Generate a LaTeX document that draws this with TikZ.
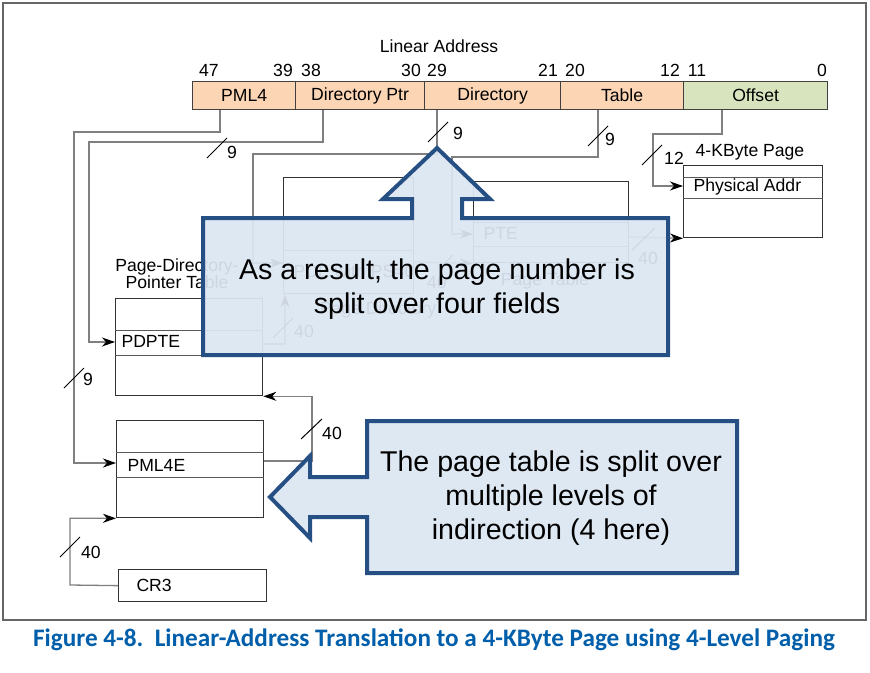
\documentclass[tikz,border=0pt]{standalone}
\usepackage{fontspec}
\setmainfont{Liberation Sans}
\newfontfamily\capfont{Carlito}
\usetikzlibrary{arrows.meta}
\definecolor{addrorange}{RGB}{252,213,180}
\definecolor{addrgreen}{RGB}{215,228,189}
\definecolor{calloutfill}{RGB}{220,230,242}
\definecolor{calloutline}{RGB}{38,80,132}
\definecolor{capblue}{RGB}{0,94,170}
\begin{document}
\begin{tikzpicture}[
    x=1pt, y=-1pt,
    font=\fontsize{17.6}{19}\selectfont,
    field/.style = {draw=black!75, line width=1.2pt, fill=addrorange, anchor=north west, minimum height=28, inner sep=0},
    tbl/.style = {draw=black!80, line width=1.3pt, anchor=north west, inner sep=0},
    row/.style = {draw=black!65, line width=1pt},
    wire/.style = {draw=black!50, line width=1.3pt},
    arr/.style = {wire, -{Stealth[length=13pt,width=9pt,inset=4pt,black]}},
    tick/.style = {draw=black, line width=1pt},
    callout/.style = {draw=calloutline, line width=4pt, fill=calloutfill, fill opacity=0.93, line join=miter},
    bignote/.style = {font=\fontsize{28.6}{34}\selectfont, align=center}
    ]
    \useasboundingbox (0,0) rectangle (870,672);
    \draw[black!60, line width=2pt] (3,3) rectangle (866,620);

    % linear address
    \node (title) at (439,46) {Linear Address};
    \foreach \n/\x in {47/209, 39/283, 38/311, 30/411, 29/437, 21/548, 20/575, 12/670, 11/697, 0/822}
        \node (bit\n) at (\x,70) {\n};
    \node[field, minimum width=103] (fpml) at (192,81) {PML4};
    \node[field, minimum width=129] (fptr) at (295,81) {Directory Ptr};
    \node[field, minimum width=136] (fdir) at (424,81) {Directory};
    \node[field, minimum width=123] (ftab) at (560,81) {Table};
    \node[field, minimum width=144, fill=addrgreen] (foff) at (683,81) {Offset};

    % tables
    \node[tbl, minimum width=139, minimum height=72] (page) at (683,165) {};
    \node[tbl, minimum width=155, minimum height=81] (ptab) at (473,181) {};
    \node[tbl, minimum width=130, minimum height=116] (pdir) at (283,177) {};
    \node[tbl, minimum width=147, minimum height=97] (pdpt) at (115,298) {};
    \node[tbl, minimum width=147, minimum height=97] (pml) at (116,420) {};
    \node[tbl, minimum width=148, minimum height=32] (cr3) at (118,569) {};

    \foreach \b/\y in {page/177, page/198, ptab/222, ptab/246, pdir/250, pdpt/330, pdpt/355, pml/452, pml/477}
        \draw[row] (\b.west |- 0,\y) -- (\b.east |- 0,\y);

    \node[anchor=west] (tphys) at (690,187) {Physical Addr};
    \node[anchor=west] (tpte) at (480,233) {PTE};
    \node[anchor=west] (tpde) at (290,271) {PDE with PS=0};
    \node[anchor=west] (tpdpte) at (118,341) {PDPTE};
    \node[anchor=west] (tpml4e) at (124,465) {PML4E};
    \node[anchor=west] (tcr3) at (133,585) {CR3};

    \node (lpage) at (750,152) {4-KByte Page};
    \node (lptab) at (545,281) {Page Table};
    \node (lpdir) at (378,310) {Page Directory};
    \node[align=center, font=\fontsize{17.6}{16}\selectfont] (lpdpt) at (177,274) {Page-Directory-\\Pointer Table};

    % address fields to tables
    \draw[arr] (fpml.south -| 220,0) -- (220,132) -- (74,132) |- (pml.west |- 0,463);
    \draw[arr] (fptr.south -| 323,0) -- (323,142) -- (89,142) |- (pdpt.west |- 0,342);
    \draw[arr] (fdir.south -| 437,0) -- (437,154) -- (253,154) |- (pdir.west |- 0,263);
    \draw[arr] (ftab.south -| 598,0) -- (598,157) -- (452,157) |- (ptab.west |- 0,234);
    \draw[arr] (foff.south -| 722,0) -- (722,134) -- (653,134) |- (page.west |- 0,186);

    % entries to next level
    \draw[arr] (cr3.west) -- (70,585) |- (pml.south west);
    \draw[arr] (pml.east |- 0,461) -- (312,461) |- (pdpt.south east);
    \draw[arr] (pdpt.east |- 0,344) -| (pdir.south west -| 285,0);
    \draw[arr] (pdir.east |- 0,262) -- (ptab.south west);
    \draw[arr] (ptab.east |- 0,237) -- (page.south west);

    % bit counts
    \draw[tick] (64,388) -- (84,368);   \node (n1) at (88,379) {9};
    \draw[tick] (207,158) -- (227,138); \node (n2) at (232,152) {9};
    \draw[tick] (428,142) -- (448,122); \node (n3) at (458,133) {9};
    \draw[tick] (588,146) -- (608,126); \node (n4) at (610,139) {9};
    \draw[tick] (642,165) -- (662,145); \node (n5) at (674,158) {12};
    \draw[tick] (60,557) -- (80,537);   \node (n6) at (91,552) {40};
    \draw[tick] (301,439) -- (322,419); \node (n7) at (332,433) {40};
    \draw[tick] (273,338) -- (293,318); \node (n8) at (304,331) {40};
    \draw[tick] (440,268) -- (453,255); \node (n9) at (437,282) {40};
    \draw[tick] (632,250) -- (655,228); \node (n10) at (648,258) {40};

    % callouts
    \draw[callout] (203,218) -- (412,218) -- (412,199) -- (383,199) -- (437,148) -- (490,199)
        -- (462,199) -- (462,218) -- (668,218) -- (668,355) -- (203,355) -- cycle;
    \node[bignote] (note1) at (437,289) {As a result, the page number is\\split over four fields};
    \draw[callout] (737,421) -- (367,421) -- (367,477) -- (310,477) -- (310,456) -- (270,497)
        -- (310,538) -- (310,517) -- (367,517) -- (367,573) -- (737,573) -- cycle;
    \node[bignote] (note2) at (551,498) {The page table is split over\\multiple levels of\\indirection (4 here)};

    % caption
    \node[text=capblue, font=\capfont\bfseries\fontsize{25.2}{28}\selectfont] (caption) at (434,640)
        {Figure 4-8.\ \ Linear-Address Translation to a 4-KByte Page using 4-Level Paging};
\end{tikzpicture}
\end{document}
